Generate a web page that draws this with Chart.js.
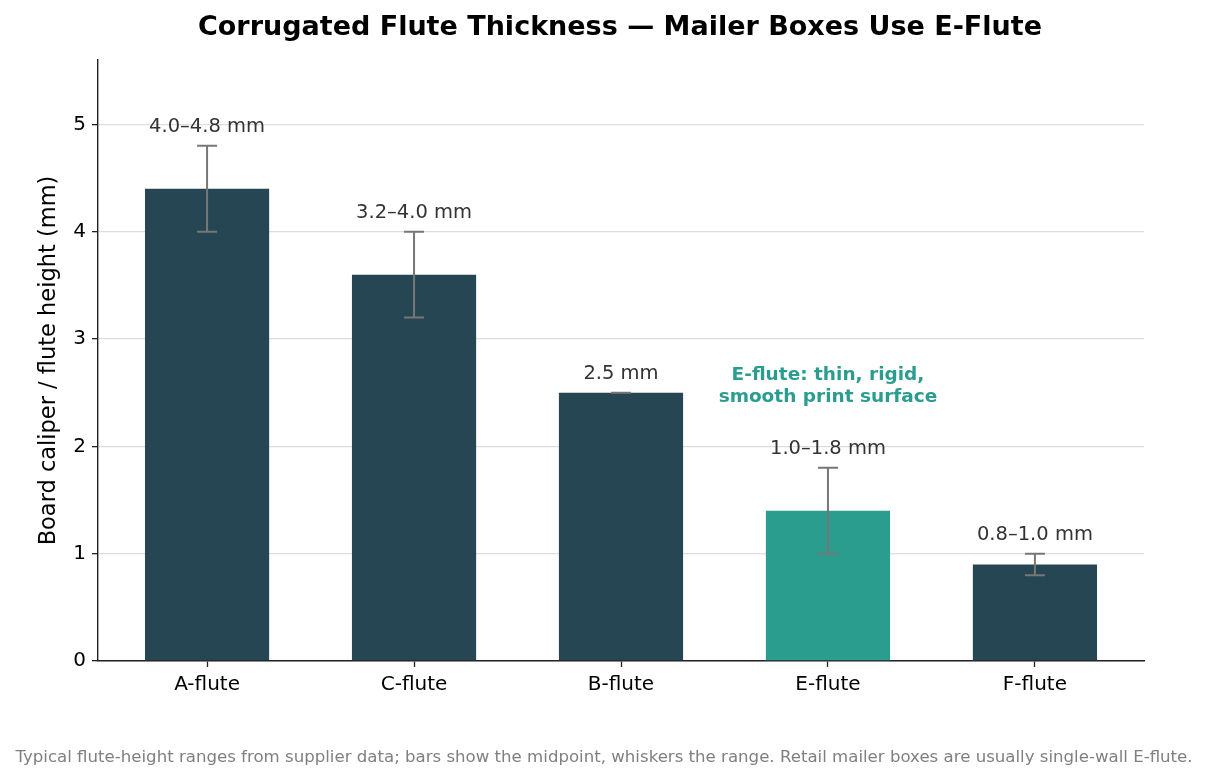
<!DOCTYPE html>
<html>
<head>
<meta charset="utf-8">
<script src="https://cdn.jsdelivr.net/npm/chart.js@4.4.1/dist/chart.umd.min.js"></script>
<style>
  html, body { margin: 0; padding: 0; background: #fff; }
  #wrap { width: 1208px; height: 781px; }
</style>
</head>
<body>
<div id="wrap"><canvas id="chart" width="1208" height="781"></canvas></div>
<script>
// flute data, mm
const flutes = ['A-flute', 'C-flute', 'B-flute', 'E-flute', 'F-flute'];
const midpoint = [4.4, 3.6, 2.5, 1.4, 0.9];
const rangeLow = [4.0, 3.2, 2.5, 1.0, 0.8];
const rangeHigh = [4.8, 4.0, 2.5, 1.8, 1.0];
const yTicks = [0, 1, 2, 3, 4, 5];
const highlight = 'E-flute';
const noteText = ['E-flute: thin, rigid,', 'smooth print surface'];
const noteAt = 2.56;

const FONT = '"DejaVu Sans", sans-serif';
const DARK = '#264653';
const TEAL = '#2a9d8f';

const barColors = flutes.map(f => f === highlight ? TEAL : DARK);
const rangeLabels = flutes.map((f, i) =>
  rangeLow[i] === rangeHigh[i]
    ? rangeLow[i].toFixed(1) + ' mm'
    : rangeLow[i].toFixed(1) + '\u2013' + rangeHigh[i].toFixed(1) + ' mm');

// whiskers, range labels, note, title and footnote
const extras = {
  id: 'extras',
  afterDatasetsDraw(chart) {
    const ctx = chart.ctx;
    const xs = chart.scales.x, ys = chart.scales.y;
    ctx.save();
    flutes.forEach((f, i) => {
      const x = xs.getPixelForValue(i);
      const yl = ys.getPixelForValue(rangeLow[i]);
      const yh = ys.getPixelForValue(rangeHigh[i]);
      ctx.strokeStyle = '#777';
      ctx.lineWidth = 2;
      ctx.beginPath();
      ctx.moveTo(x, yl); ctx.lineTo(x, yh);
      ctx.moveTo(x - 10, yl); ctx.lineTo(x + 10, yl);
      ctx.moveTo(x - 10, yh); ctx.lineTo(x + 10, yh);
      ctx.stroke();
      ctx.fillStyle = '#333';
      ctx.font = '19.5px ' + FONT;
      ctx.textAlign = 'center';
      ctx.textBaseline = 'middle';
      ctx.fillText(rangeLabels[i], x, yh - 19);
    });
    // note over highlighted bar
    const hx = xs.getPixelForValue(flutes.indexOf(highlight));
    const ny = ys.getPixelForValue(noteAt);
    ctx.fillStyle = TEAL;
    ctx.font = 'bold 18.5px ' + FONT;
    ctx.fillText(noteText[0], hx, ny - 11);
    ctx.fillText(noteText[1], hx, ny + 11);
    ctx.restore();
  },
  afterDraw(chart) {
    const ctx = chart.ctx;
    ctx.save();
    ctx.textAlign = 'center';
    ctx.textBaseline = 'middle';
    ctx.fillStyle = '#000';
    ctx.font = 'bold 27px ' + FONT;
    ctx.fillText('Corrugated Flute Thickness \u2014 Mailer Boxes Use E-Flute', 620, 28);
    ctx.fillStyle = '#808080';
    ctx.font = '16.6px ' + FONT;
    ctx.fillText('Typical flute-height ranges from supplier data; bars show the midpoint, whiskers the range. Retail mailer boxes are usually single-wall E-flute.', 604, 758);
    ctx.restore();
  }
};

new Chart(document.getElementById('chart'), {
  type: 'bar',
  data: {
    datasets: [{
      data: flutes.map((f, i) => ({ x: i, y: midpoint[i] })),
      backgroundColor: barColors,
      categoryPercentage: 1.0,
      barPercentage: 0.6
    }]
  },
  options: {
    responsive: false,
    animation: false,
    devicePixelRatio: 1,
    layout: { padding: { top: 60, right: 64, left: 36, bottom: 0 } },
    plugins: {
      legend: { display: false },
      tooltip: { enabled: false },
      title: { display: false }
    },
    scales: {
      x: {
        type: 'linear',
        offset: false,
        min: -0.527,
        max: 4.527,
        afterBuildTicks(s) { s.ticks = flutes.map((f, i) => ({ value: i })); },
        grid: { display: true, offset: false, drawOnChartArea: false, tickLength: 6, tickColor: '#222', tickWidth: 1.3 },
        border: { color: '#222', width: 1.4 },
        ticks: {
          color: '#000', font: { family: FONT, size: 20 }, padding: 6,
          autoSkip: false, maxRotation: 0,
          callback: v => flutes[v]
        },
        afterFit(s) { s.height = 120; }
      },
      y: {
        min: 0,
        max: 5.6,
        afterBuildTicks(s) { s.ticks = yTicks.map(v => ({ value: v })); },
        grid: { color: '#dddddd', lineWidth: 1.3, tickLength: 6, tickColor: '#222', tickWidth: 1.3 },
        border: { color: '#222', width: 1.4 },
        ticks: { color: '#000', font: { family: FONT, size: 20 }, padding: 6 },
        title: {
          display: true,
          text: 'Board caliper / flute height (mm)',
          color: '#000',
          font: { family: FONT, size: 22.5 },
          padding: { top: 0, bottom: 0 }
        },
        afterFit(s) { s.width = 62; }
      }
    }
  },
  plugins: [extras]
});
</script>
</body>
</html>
